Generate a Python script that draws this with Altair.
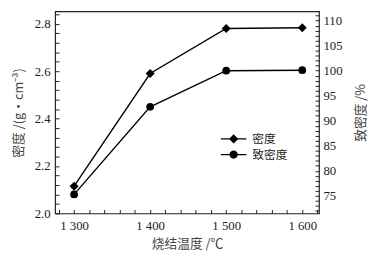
import altair as alt
import pandas as pd

temps = [1300, 1400, 1500, 1600]
density = [2.115, 2.59, 2.78, 2.783]
rel_density = [75.3, 92.8, 100.0, 100.1]
series_names = ["密度", "致密度"]

x_ticks = [1280, 1300, 1320, 1340, 1360, 1380, 1400, 1420, 1440, 1460, 1480,
           1500, 1520, 1540, 1560, 1580, 1600, 1620]
yl_ticks = [2.0, 2.04, 2.08, 2.12, 2.16, 2.2, 2.24, 2.28, 2.32, 2.36, 2.4, 2.44, 2.48,
            2.52, 2.56, 2.6, 2.64, 2.68, 2.72, 2.76, 2.8, 2.84]
yr_ticks = list(range(72, 112))

XDOM = [1275, 1622]
YLDOM = [2.0, 2.852]
YRDOM = [71.5, 111.85]

df = pd.DataFrame({"t": temps, "d": density, "r": rel_density})
leg = pd.DataFrame({"t": [1300, 1300], "s": series_names})

SERIF = "Liberation Serif"
CJK = "Noto Sans CJK SC"

xs = alt.Scale(domain=XDOM, nice=False, zero=False)
yls = alt.Scale(domain=YLDOM, nice=False, zero=False)
yrs = alt.Scale(domain=YRDOM, nice=False, zero=False)

def axis(**kw):
    base = dict(ticks=True, tickSize=4, offset=-4, domain=False, grid=False,
                tickColor="#222", tickWidth=1, zindex=1,
                labelFont=SERIF, labelFontSize=13,
                labelColor="#222", titleFont=CJK, titleFontSize=13, titleColor="#444",
                titleFontWeight="normal")
    base.update(kw)
    return alt.Axis(**base)

XMAJ = "datum.value % 100 == 0"
YLMAJ = "abs(datum.value*5 - round(datum.value*5)) < 0.001"
YRMAJ = "datum.value % 5 == 0"

base = alt.Chart(df)

line_d = base.mark_line(color="black", strokeWidth=1.4).encode(
    x=alt.X("t:Q", scale=xs, axis=axis(
        values=x_ticks, orient="bottom", title="烧结温度 /℃",
        labelExpr=XMAJ + " ? '1 ' + (datum.value - 1000) : ''",
        labelPadding=6, titlePadding=6)),
    y=alt.Y("d:Q", scale=yls, axis=axis(
        values=yl_ticks, orient="left", title="密度 /(g·cm⁻³)",
        labelExpr=YLMAJ + " ? format(datum.value, '.1f') : ''",
        labelPadding=5, titlePadding=9)),
)
pt_d = base.mark_point(filled=True, color="black", opacity=1, size=85, shape="diamond").encode(
    x=alt.X("t:Q", scale=xs, axis=None), y=alt.Y("d:Q", scale=yls, axis=None))

line_r = base.mark_line(color="black", strokeWidth=1.4).encode(
    x=alt.X("t:Q", scale=xs, axis=None),
    y=alt.Y("r:Q", scale=yrs, axis=axis(
        values=yr_ticks, orient="right", title="致密度 /%",
        labelExpr=YRMAJ + " ? datum.label : ''",
        labelPadding=4, titlePadding=13, titleAngle=270, titleBaseline="top")),
)
pt_r = base.mark_point(filled=True, color="black", opacity=1, size=62, shape="circle").encode(
    x=alt.X("t:Q", scale=xs, axis=None), y=alt.Y("r:Q", scale=yrs, axis=None))

diamond_path = "M-2.6,-0.14H2.6V0.14H-2.6Z M0,-0.95L0.95,0L0,0.95L-0.95,0Z"
circle_path = ("M-2.6,-0.14H2.6V0.14H-2.6Z "
               "M0.85,0A0.85,0.85,0,1,1,-0.85,0A0.85,0.85,0,1,1,0.85,0Z")

legend_layer = alt.Chart(leg).mark_point(filled=True, opacity=0, color="black").encode(
    x=alt.X("t:Q", scale=xs, axis=None),
    shape=alt.Shape("s:N", scale=alt.Scale(domain=series_names, range=[diamond_path, circle_path]),
                    legend=alt.Legend(title=None, orient="none", legendX=176, legendY=124,
                                      symbolSize=100, symbolOpacity=1, symbolFillColor="black",
                                      symbolStrokeWidth=0,
                                      labelFont=CJK, labelFontSize=12, labelColor="#222",
                                      labelOffset=13, rowPadding=4, padding=0)),
)

chart = alt.layer(line_d, pt_d, line_r, pt_r, legend_layer).resolve_scale(
    y="independent"
).resolve_axis(x="independent", y="independent").properties(
    width=269, height=206,
    padding={"left": 48, "top": 1, "right": 52, "bottom": 44},
    autosize=alt.AutoSizeParams(type="none"),
).configure(background="white").configure_view(stroke="#222", strokeWidth=1.2)

chart.save("out.html", embed_options={"renderer": "svg", "actions": False})
